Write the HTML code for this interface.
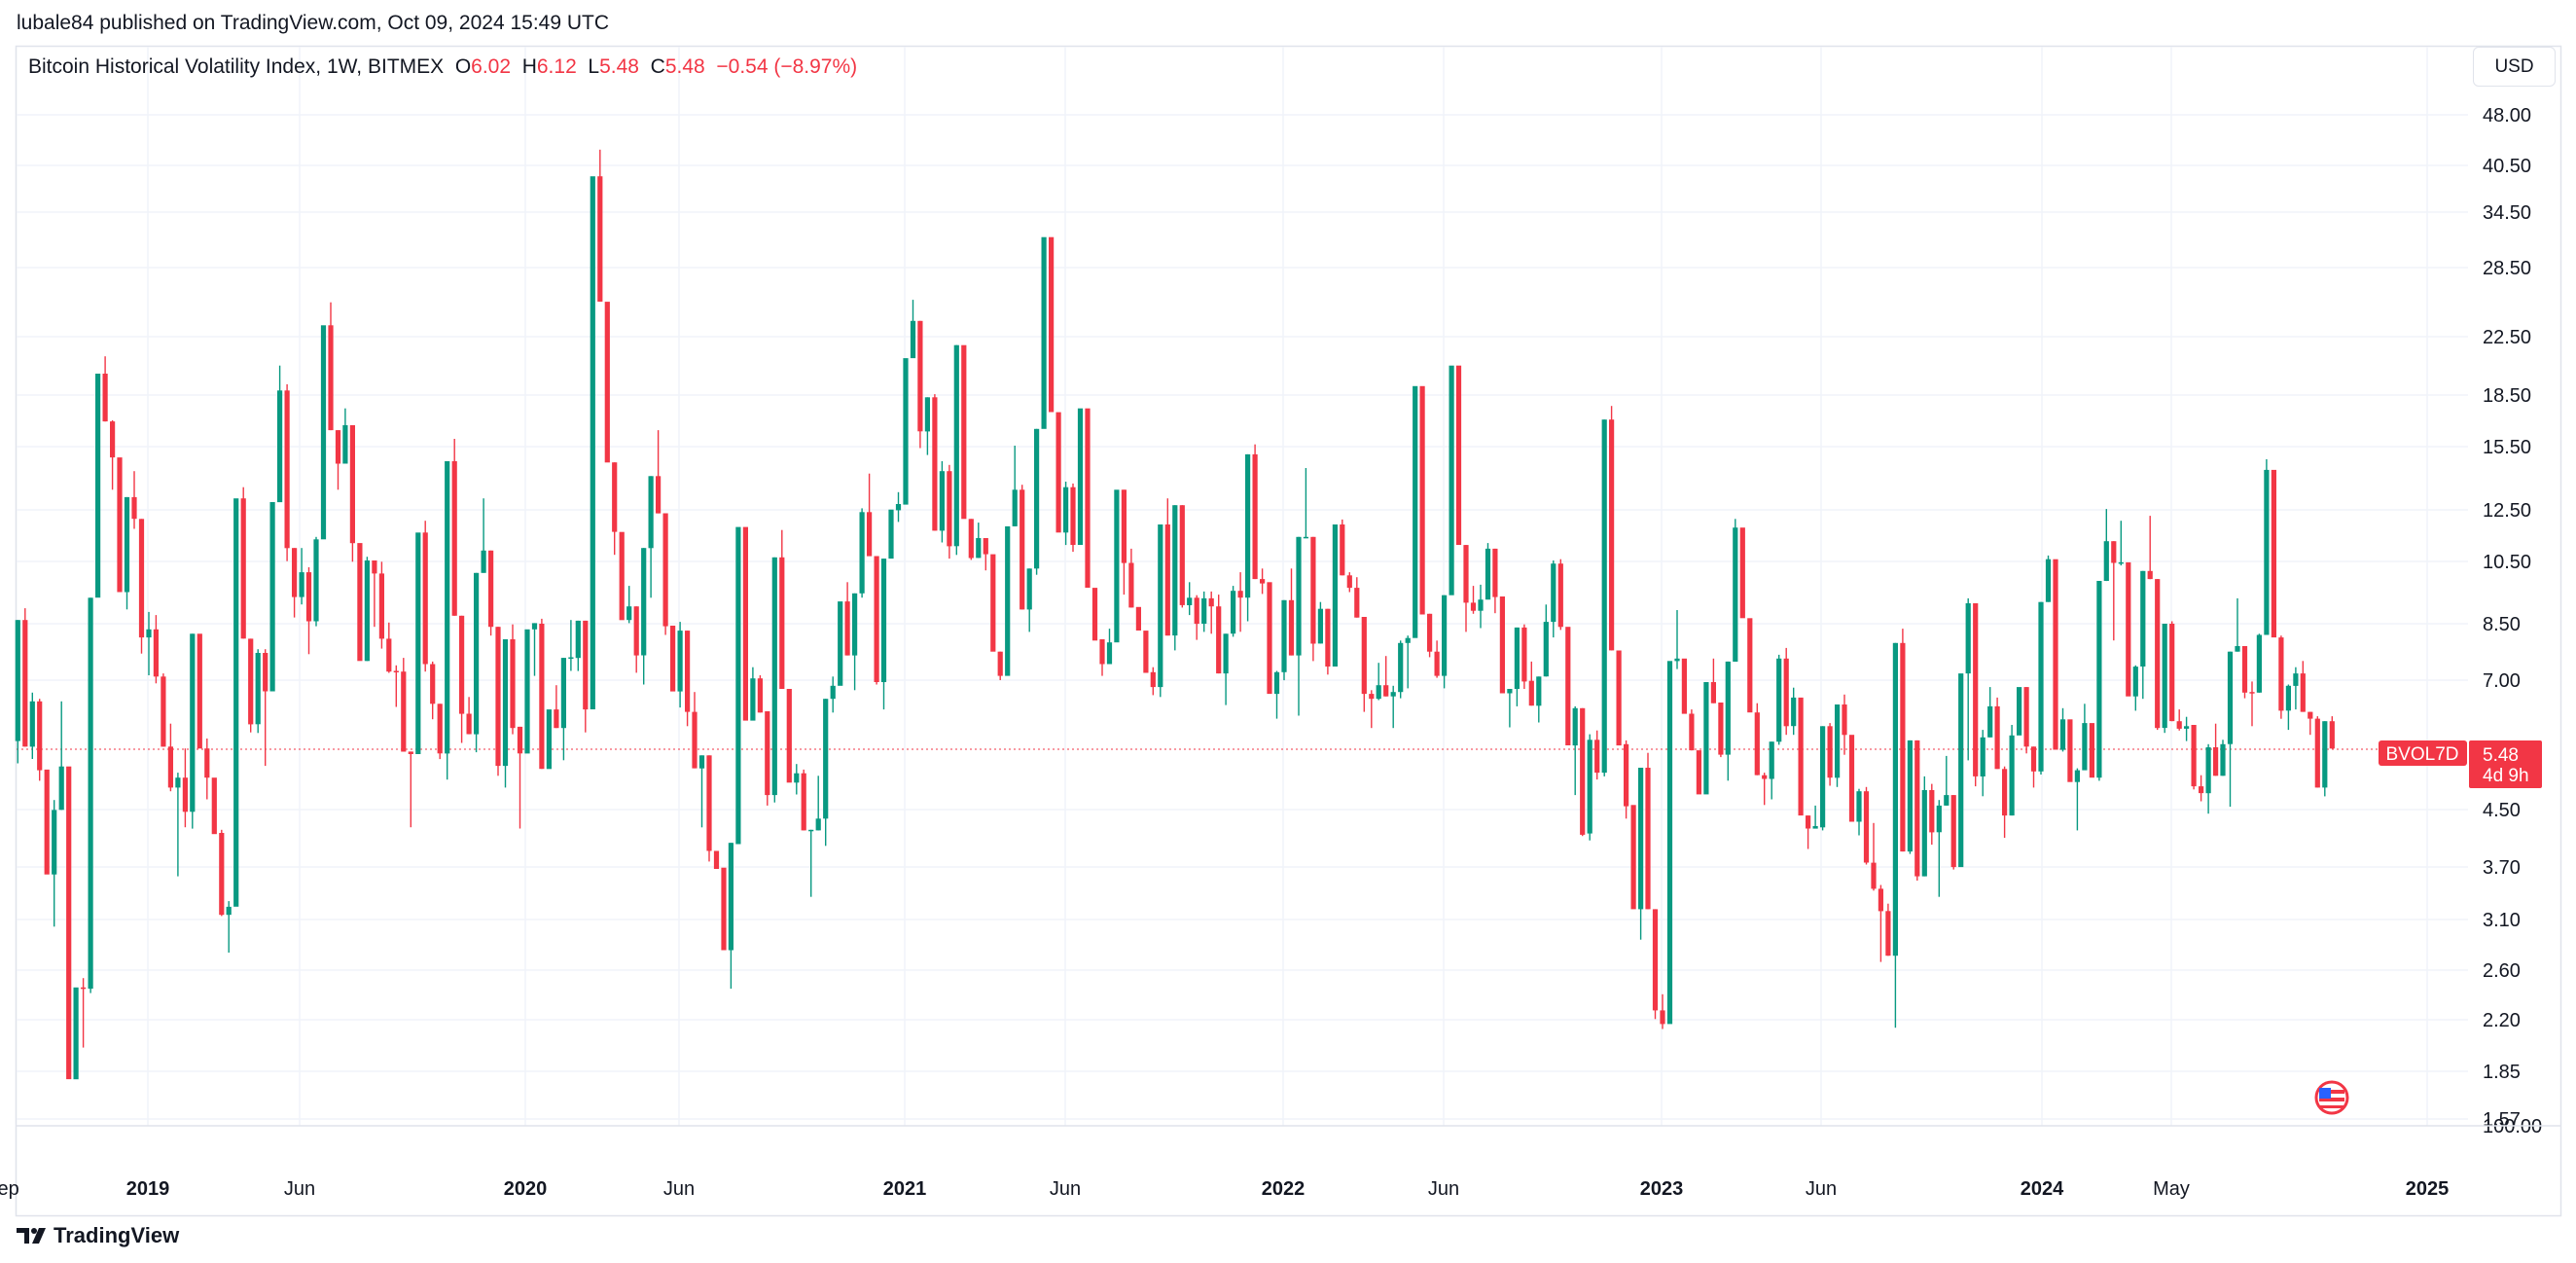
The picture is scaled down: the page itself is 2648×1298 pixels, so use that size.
<!DOCTYPE html>
<html><head><meta charset="utf-8"><style>
html,body{margin:0;padding:0;background:#fff;}
body{width:2648px;height:1298px;position:relative;overflow:hidden;font-family:"Liberation Sans",sans-serif;color:#131722;}
.t{position:absolute;white-space:nowrap;}
</style></head><body>
<div class="t" style="left:17px;top:12px;font-size:21px;">lubale84 published on TradingView.com, Oct 09, 2024 15:49 UTC</div>
<svg id="s" width="2648" height="1298" style="position:absolute;left:0;top:0" xmlns="http://www.w3.org/2000/svg"></svg>
<div class="t" style="left:29px;top:57px;font-size:21px;">Bitcoin Historical Volatility Index, 1W, BITMEX&nbsp;&nbsp;O<span style="color:#F23645">6.02</span>&nbsp;&nbsp;H<span style="color:#F23645">6.12</span>&nbsp;&nbsp;L<span style="color:#F23645">5.48</span>&nbsp;&nbsp;C<span style="color:#F23645">5.48</span>&nbsp;&nbsp;<span style="color:#F23645">−0.54 (−8.97%)</span></div>
<div class="t" style="left:2542px;top:48px;width:83px;height:39px;border:1px solid #e0e3eb;border-radius:6px;font-size:19px;line-height:39px;text-align:center;">USD</div>
<div class="t" style="left:17px;top:1257px;font-size:22px;font-weight:bold;"><svg width="34" height="20" viewBox="0 0 34 20" style="vertical-align:-3px;margin-right:4px"><path d="M0 2h13v16H8V7H0z" fill="#131722"/><circle cx="18" cy="5" r="3" fill="#131722"/><path d="M23 2h7l-7 16h-7z" fill="#131722"/></svg>TradingView</div>
<script>
var D=[
[1,811,1006,811,1042],[0,811,1015,792,1015],[1,942,1015,928,1035],[0,942,1053,938,1070],[0,1052,1221],[1,1117,1221,1101,1305],[1,1047,1117,942,1117],[0,1047,1551],[1,1403,1551],[0,1403,1405,1388,1500],
[1,775,1405,775,1412],[1,414,775],[0,414,491,386,491],[0,491,549,489,601],[0,549,766],[1,613,766,613,794],[0,613,648,571,664],[0,648,839,648,865],[1,826,839,798,900],[0,826,902,803,913],
[0,902,1015,897,1015],[0,1015,1081,978,1087],[1,1065,1081,1057,1224],[0,1065,1120,1018,1145],[1,833,1120,833,1147],[0,833,1018],[0,1018,1065,1002,1100],[0,1065,1156],[0,1154,1286,1149,1288],[1,1273,1286,1264,1347],
[1,615,1273],[0,615,841,597,841],[0,841,979,841,992],[1,864,979,858,993],[0,864,926,858,1046],[1,621,926],[1,441,621,401,621],[0,441,695,431,716],[0,695,774,695,807],[1,734,774,695,786],
[0,734,813,726,866],[1,681,813,677,821],[1,336,681],[0,336,505,299,505],[0,505,559,505,601],[1,497,559,470,559],[0,497,687,497,717],[0,687,877],[1,715,877,709,877],[0,715,736,715,822],
[0,736,841,717,857],[0,841,894,815,896],[0,893,895,884,951],[0,894,1023,872,1023],[0,1023,1027,1023,1145],[1,670,1027],[0,670,882,651,894],[0,882,946,878,971],[0,946,1026,946,1035],[1,555,1026,555,1068],
[0,555,804,519,804],[0,804,962,804,1009],[0,962,995,935,995],[1,735,995,735,1024],[1,699,735,615,735],[0,699,822,699,836],[0,822,1046,822,1062],[1,842,1046,842,1081],[0,842,985,818,995],[0,983,1026,983,1147],
[1,826,1026],[1,816,826,816,901],[0,817,1051,809,1051],[1,955,1051],[0,955,985,916,985],[1,872,985,872,1037],[1,871,873,811,893],[1,812,872,812,893],[0,812,955,812,992],[1,96,955],
[0,96,298,53,298],[0,298,557],[0,557,669,557,706],[0,669,811],[1,789,811,756,816],[0,789,868,789,896],[1,695,868,695,915],[1,579,695,579,775],[0,579,639,505,639],[0,639,821,639,835],
[0,820,926],[1,828,926,814,952],[0,828,959,828,982],[0,959,1050,927,1050],[1,1029,1050,1029,1145],[0,1029,1183,1029,1200],[0,1183,1212],[0,1210,1343],[1,1170,1343,1170,1405],[1,661,1172],
[0,661,973],[1,905,973,887,973],[0,905,960,900,960],[0,958,1093,958,1110],[1,710,1093,710,1105],[0,710,922,666,922],[0,922,1073],[1,1058,1073,1043,1092],[0,1058,1150,1052,1150],[1,1149,1151,1149,1257],
[1,1131,1150,1062,1150],[1,938,1131,938,1175],[1,917,938,902,960],[1,781,917],[0,781,868,750,868],[1,768,868,768,924],[1,637,768,631,775],[0,637,708,575,708],[0,708,911,708,915],[1,712,911,712,955],
[1,633,712],[1,624,634,605,653],[1,389,625],[1,329,389,295,389],[0,329,507,329,534],[1,452,507,452,545],[0,452,667,447,667],[1,571,667,555,686],[0,571,692,561,712],[1,368,692,368,706],
[0,368,648],[0,648,711,648,714],[1,679,711,654,711],[0,679,705,679,731],[0,705,862],[0,862,901,862,908],[1,660,901],[1,601,660,530,660],[0,601,794,593,794],[1,728,794,728,830],
[1,503,728,503,738],[1,194,503],[0,194,476],[0,476,670],[1,597,670,588,690],[0,597,690,591,701],[1,470,690],[0,470,759],[0,759,844],[0,842,882,842,901],
[1,847,882,825,882],[1,601,847],[0,601,719,601,770],[0,719,791,696,791],[0,790,828],[0,828,896],[0,895,919,887,932],[1,657,919,657,935],[0,657,836,615,836],[1,626,836,626,860],
[0,626,787,626,791],[1,775,787,750,803],[0,775,817,771,843],[1,776,817,765,830],[0,776,789,765,833],[0,789,897,770,897],[1,833,897,833,948],[1,764,833,756,838],[0,764,775,734,830],[1,544,775,544,813],
[0,544,745,528,745],[0,745,752,728,769],[0,750,930],[1,895,930,893,970],[1,779,895,779,908],[0,779,868,728,868],[1,677,868,677,965],[1,677,679,566,679],[0,677,849,677,877],[1,793,849,782,849],
[0,793,886,793,899],[1,657,886],[0,657,739,649,739],[0,739,759,734,766],[0,759,807,742,807],[0,806,930,806,959],[0,930,938,924,985],[1,916,938,880,940],[0,916,934,869,934],[1,927,934,917,985],
[1,848,927,844,937],[1,840,848,836,921],[1,434,840],[0,434,802],[0,801,862,801,871],[0,862,901,844,904],[1,771,901,771,921],[1,401,771],[0,401,690],[0,690,783,690,830],
[0,783,796,756,801],[1,778,796,754,824],[1,696,778,687,778],[0,696,774,696,800],[0,773,929],[1,922,929,922,984],[1,823,922,823,950],[0,823,910,818,922],[0,909,949,878,949],[1,902,949,902,976],
[1,814,902,786,902],[1,720,814,715,839],[0,720,822,713,827],[0,822,1013],[1,953,1013,950,1093],[0,953,1157,953,1159],[1,1004,1155,995,1166],[0,1004,1057,989,1068],[1,488,1057,488,1063],[0,488,860,466,860],
[0,860,1013],[0,1011,1111,1005,1131],[0,1109,1277],[1,1049,1277,1049,1326],[0,1049,1277,1025,1277],[0,1277,1440,1277,1454],[0,1440,1462,1414,1470],[1,877,1462],[1,873,877,795,890],[0,873,962],
[0,962,1021,955,1021],[0,1021,1092],[1,911,1092],[0,911,945,873,945],[0,944,1028,944,1032],[1,878,1028,878,1070],[1,662,878,648,878],[0,662,808],[0,808,960],[0,960,1061,945,1061],
[0,1061,1067,1057,1109],[1,1007,1067,1007,1100],[1,873,1007,867,1012],[0,873,982,856,996],[1,936,982,920,996],[0,936,1126],[0,1126,1147,1126,1180],[1,1143,1147,1110,1147],[1,982,1145,982,1150],[0,982,1065,977,1078],
[1,947,1065,947,1080],[0,947,996,931,1028],[0,996,1136],[1,1087,1136,1083,1158],[0,1087,1202,1080,1205],[0,1202,1244,1138,1247],[0,1244,1280,1238,1362],[0,1280,1352,1268,1352],[1,848,1352,848,1468],[0,848,1184,825,1184],
[1,1005,1184,1005,1188],[0,1005,1224,1005,1231],[1,1085,1224,1063,1224],[0,1085,1153,1075,1173],[1,1110,1153,1101,1257],[1,1093,1110,1030,1110],[0,1093,1209,1093,1213],[1,897,1209],[1,784,897,776,1037],[0,784,1063,784,1079],
[1,1000,1063,988,1095],[1,950,1000,919,1000],[0,950,1051,936,1051],[0,1051,1126,1047,1162],[1,997,1126,980,1126],[1,919,997],[0,919,1015,919,1026],[0,1015,1055,1015,1081],[1,782,1055,782,1060],[1,713,782,707,782],
[0,713,1020],[1,971,1020,953,1023],[0,971,1072],[1,1053,1072,1050,1150],[1,977,1053,946,1053],[0,977,1065],[1,748,1065,748,1070],[1,684,748,632,748],[0,684,719,684,844],[1,718,720,651,723],
[0,718,934],[1,886,934,884,957],[1,732,886,732,938],[0,732,745,643,745],[0,745,985,745,988],[1,817,985,817,993],[0,817,974,813,974],[0,974,986,955,989],[1,982,986,967,1006],[0,980,1079,980,1084],
[0,1079,1090,1061,1103],[1,1016,1090,1011,1123],[0,1016,1062,978,1062],[1,1011,1062,1004,1062],[1,862,1011,862,1112],[1,853,862,776,862],[0,853,928,853,937],[0,927,929,910,982],[1,835,928,833,928],[1,569,835,552,835],
[0,569,839],[0,839,957,836,970],[1,917,957,915,988],[1,897,917,887,955],[0,897,959,877,959],[0,959,970,959,996],[0,970,1081,966,1081],[1,974,1081,974,1095],[0,974,1018,966,1018]
];
var s=document.getElementById('s'),h='';
// frame
h+='<rect x="16.5" y="47.5" width="2616" height="1202" fill="none" stroke="#e0e3eb" stroke-width="1.5"/>';
var P=[[48,'48.00',118],[40.5,'40.50',170],[34.5,'34.50',218],[28.5,'28.50',275],[22.5,'22.50',346],[18.5,'18.50',406],[15.5,'15.50',459],[12.5,'12.50',524],[10.5,'10.50',577],[8.5,'8.50',641],[7,'7.00',699],[4.5,'4.50',832],[3.7,'3.70',891],[3.1,'3.10',945],[2.6,'2.60',997],[2.2,'2.20',1048],[1.85,'1.85',1101],[1.57,'1.57',1150]];
P.forEach(function(p){h+='<line x1="17" x2="2537" y1="'+p[2]+'" y2="'+p[2]+'" stroke="#f0f3fa" stroke-width="1.5"/>';
h+='<text x="2552" y="'+(p[2]+7)+'" font-size="20" fill="#131722" font-family="Liberation Sans, sans-serif">'+p[1]+'</text>';});
h+='<text x="2552" y="1164" font-size="20" fill="#131722" font-family="Liberation Sans, sans-serif">100.00</text>';
var V=[[152,'2019',1],[308,'Jun',0],[540,'2020',1],[698,'Jun',0],[930,'2021',1],[1095,'Jun',0],[1319,'2022',1],[1484,'Jun',0],[1708,'2023',1],[1872,'Jun',0],[2099,'2024',1],[2232,'May',0],[2495,'2025',1]];
V.forEach(function(v){h+='<line x1="'+v[0]+'" x2="'+v[0]+'" y1="48" y2="1157" stroke="#f0f3fa" stroke-width="1.5"/>';
h+='<text x="'+v[0]+'" y="1228" text-anchor="middle" font-size="20" '+(v[2]?'font-weight="bold" ':'')+'fill="#131722" font-family="Liberation Sans, sans-serif">'+v[1]+'</text>';});
h+='<text x="2" y="1228" text-anchor="middle" font-size="20" fill="#131722" font-family="Liberation Sans, sans-serif">Sep</text>';
h+='<line x1="17" x2="2632" y1="1157" y2="1157" stroke="#e0e3eb" stroke-width="1.5"/>';
h+='<line x1="17" x2="2445" y1="770" y2="770" stroke="#F23645" stroke-width="1" stroke-dasharray="2,3"/>';
function Y(z){return 120+z/1.568;}
D.forEach(function(d,i){var x=18.3+7.481*i,c=d[0]?'#089981':'#F23645';
var t=Y(d[1]),b=Y(d[2]);if(b-t<1.5){b=t+1.5;}
var wt=d.length>3?Y(d[3]):t,wb=d.length>3?Y(d[4]):b;
if(wt<t||wb>b)h+='<rect x="'+(x-0.7).toFixed(1)+'" y="'+wt.toFixed(1)+'" width="1.4" height="'+(wb-wt).toFixed(1)+'" fill="'+c+'"/>';
h+='<rect x="'+(x-2.6).toFixed(1)+'" y="'+t.toFixed(1)+'" width="5.2" height="'+(b-t).toFixed(1)+'" fill="'+c+'"/>';});
// labels
h+='<rect x="2445" y="761" width="91" height="26" rx="3" fill="#F23645"/><text x="2490" y="781" text-anchor="middle" font-size="19" fill="#fff" font-family="Liberation Sans, sans-serif">BVOL7D</text>';
h+='<rect x="2538" y="761" width="75" height="49" rx="2" fill="#F23645"/><text x="2552" y="782" font-size="19" fill="#fff" font-family="Liberation Sans, sans-serif">5.48</text><text x="2552" y="803" font-size="19" fill="#fff" font-family="Liberation Sans, sans-serif">4d 9h</text>';
// flag icon
h+='<circle cx="2397" cy="1128" r="16" fill="#fff" stroke="#F23645" stroke-width="3"/><rect x="2384" y="1120" width="26" height="4" fill="#F23645"/><rect x="2384" y="1128" width="26" height="4" fill="#F23645"/><rect x="2384" y="1136" width="26" height="3" fill="#F23645"/><rect x="2384" y="1118" width="12" height="11" fill="#2962FF"/>';
s.innerHTML=h;
</script>
</body></html>
